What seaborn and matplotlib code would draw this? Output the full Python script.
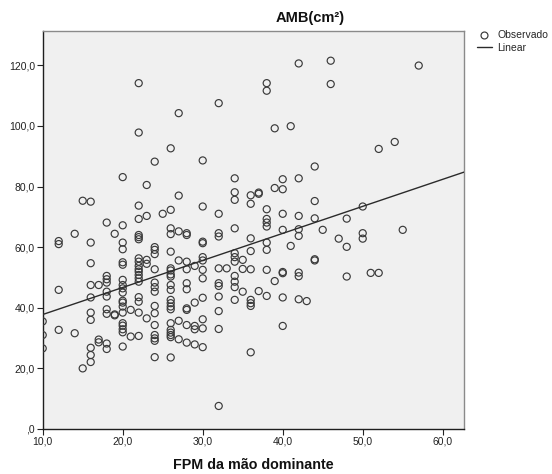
import numpy as np
import pandas as pd
import matplotlib
matplotlib.use("Agg")
import matplotlib.pyplot as plt
from matplotlib.lines import Line2D
import seaborn as sns

# Handgrip strength (FPM, dominant hand) and arm muscle area (AMB, cm²)
fpm = (
    [10] * 3 + [12] * 4 + [14] * 2 + [15] * 2 + [16] * 10 + [17] * 3 + [18] * 10
    + [19] * 3 + [20] * 19 + [21] * 2 + [22] * 19 + [23] * 5 + [24] * 15 + [25] * 1
    + [26] * 21 + [27] * 6 + [28] * 10 + [29] * 5 + [30] * 12 + [32] * 11 + [33] * 1
    + [34] * 11 + [35] * 3 + [36] * 9 + [37] * 3 + [38] * 10 + [39] * 3 + [40] * 8
    + [41] * 2 + [42] * 8 + [43] * 1 + [44] * 5 + [45] * 1 + [46] * 2 + [47] * 1
    + [48] * 3 + [50] * 3 + [51] * 1 + [52] * 2 + [54] * 1 + [55] * 1 + [57] * 1
)
amb = [
    35.5, 31.0, 26.6,
    62.0, 61.0, 45.9, 32.7,
    64.4, 31.6,
    75.3, 20.0,
    75.0, 61.5, 54.7, 47.5, 43.4, 38.4, 36.0, 26.8, 24.4, 22.1,
    47.5, 29.5, 28.6,
    68.1, 50.5, 49.4, 48.3, 45.3, 43.7, 39.5, 38.0, 28.2, 26.4,
    64.4, 37.8, 37.5,
    83.1, 67.2, 61.5, 59.3, 55.0, 54.2, 49.2, 47.5, 46.4, 45.0, 42.3, 41.7, 40.4,
    38.4, 34.9, 34.1, 32.9, 31.9, 27.2,
    39.3, 30.5,
    114.1, 97.8, 73.7, 69.3, 64.0, 63.3, 62.6, 56.3, 55.2, 53.8, 52.7, 51.9, 50.8,
    49.7, 48.6, 43.5, 42.0, 38.4, 30.7,
    80.5, 70.3, 55.8, 54.5, 36.5,
    88.2, 60.0, 59.1, 57.7, 52.7, 48.3, 46.8, 45.3, 40.6, 38.2, 34.3, 31.0, 29.9,
    29.1, 23.7,
    71.0,
    92.6, 72.3, 66.2, 64.3, 58.5, 53.0, 52.3, 51.0, 50.3, 47.5, 45.9, 42.6, 41.5,
    40.4, 39.5, 34.9, 32.7, 31.8, 31.0, 30.3, 23.6,
    104.2, 77.0, 65.2, 55.6, 35.7, 29.6,
    64.6, 64.0, 55.2, 52.7, 48.1, 46.1, 39.8, 39.3, 34.3, 28.5,
    53.8, 41.7, 34.0, 32.9, 27.9,
    88.6, 73.4, 61.8, 61.3, 56.7, 55.6, 52.5, 49.7, 43.3, 36.2, 33.2, 27.0,
    107.5, 71.0, 64.6, 63.5, 53.0, 48.1, 47.2, 43.7, 38.9, 33.0, 7.6,
    53.0,
    82.7, 78.1, 75.6, 66.2, 58.0, 56.7, 55.2, 50.5, 48.6, 46.8, 42.6,
    55.8, 52.8, 45.3,
    77.1, 74.3, 62.9, 58.7, 52.7, 42.6, 41.5, 40.6, 25.3,
    78.0, 77.6, 45.5,
    114.1, 111.6, 72.5, 69.3, 68.1, 66.8, 61.5, 59.1, 52.5, 43.9,
    99.2, 79.5, 48.8,
    82.4, 79.1, 71.0, 65.7, 51.8, 51.4, 43.4, 34.0,
    99.9, 60.4,
    120.6, 82.7, 70.3, 65.9, 63.7, 51.6, 50.4, 42.8,
    42.2,
    86.6, 75.2, 69.5, 56.0, 55.6,
    65.7,
    121.5, 113.8,
    62.8,
    69.4, 60.1, 50.3,
    73.4, 64.6, 62.8,
    51.5,
    92.4, 51.5,
    94.7,
    65.7,
    119.9,
]

x_ticks = [10, 20, 30, 40, 50, 60]
y_ticks = [0, 20, 40, 60, 80, 100, 120]
x_range = (10, 62.66)
y_range = (0, 131.4)

sns.set_style("white")
plt.rcParams["font.family"] = ["Liberation Sans", "DejaVu Sans"]

W, H = 552, 474
fig = plt.figure(figsize=(W / 100, H / 100), dpi=100)
left, right, top, bottom = 42.7, 464.0, 30.7, 429.0
ax = fig.add_axes([left / W, 1 - bottom / H, (right - left) / W, (bottom - top) / H])
ax.set_facecolor("#f0f0f0")

df = pd.DataFrame({"fpm": fpm, "amb": amb})
sns.scatterplot(data=df, x="fpm", y="amb", ax=ax, marker="o", s=26,
                facecolors="none", edgecolor="#3a3a3a", linewidth=0.85,
                zorder=3)

# Least-squares line across the full horizontal range
slope, intercept = np.polyfit(df["fpm"], df["amb"], 1)
fit = pd.DataFrame({"fpm": list(x_range)})
fit["amb"] = intercept + slope * fit["fpm"]
sns.lineplot(data=fit, x="fpm", y="amb", ax=ax, color="#2b2b2b",
             linewidth=1.0, zorder=4)

ax.set_xlim(*x_range)
ax.set_ylim(*y_range)


def fmt(v):
    s = f"{v:.1f}".replace(".", ",")
    return ",0" if v == 0 else s


ax.set_xticks(x_ticks)
ax.set_xticklabels([fmt(v) for v in x_ticks])
ax.set_yticks(y_ticks)
ax.set_yticklabels([fmt(v) for v in y_ticks])
ax.tick_params(axis="both", direction="out", length=4, width=0.8,
               color="#222222", labelsize=7.5, pad=1.5, labelcolor="#222222")
ax.tick_params(axis="x", bottom=True)
ax.tick_params(axis="y", left=True)
ax.set_xlabel("")
ax.set_ylabel("")
ax.grid(False)

for side in ("left", "bottom"):
    ax.spines[side].set_color("#1e1e1e")
    ax.spines[side].set_linewidth(1.0)
for side in ("top", "right"):
    ax.spines[side].set_color("#8a8a8a")
    ax.spines[side].set_linewidth(1.0)

fig.text(310 / W, 1 - 18 / H, "AMB(cm²)", ha="center", va="center",
         fontsize=10.5, fontweight="bold", color="#111111")
fig.text(253 / W, 1 - 465 / H, "FPM da mão dominante", ha="center",
         va="center", fontsize=10.3, fontweight="bold", color="#111111")

handles = [
    Line2D([], [], marker="o", ls="none", mfc="none", mec="#3a3a3a",
           ms=5, mew=0.85),
    Line2D([], [], color="#2b2b2b", lw=1.0),
]
fig.legend(handles, ["Observado", "Linear"], loc="upper left",
           bbox_to_anchor=(476.5 / W, 1 - 30.5 / H), frameon=False,
           fontsize=7.5, handlelength=1.5, handletextpad=0.5,
           labelspacing=0.25, borderpad=0, borderaxespad=0)

fig.savefig("out.png", dpi=100)
